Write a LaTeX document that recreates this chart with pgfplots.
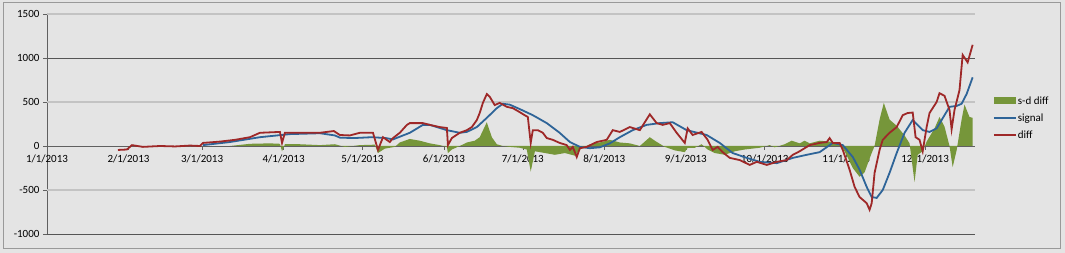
\documentclass[border=0pt]{standalone}
\usepackage{pgfplots}
\pgfplotsset{compat=1.18}
\usepackage{pgfplotstable}
\usepackage{fontspec}
\setmainfont{Carlito}

\definecolor{bg}{RGB}{228,228,228}
\definecolor{diffred}{RGB}{158,40,40}
\definecolor{sigblue}{RGB}{46,100,152}
\definecolor{sdgreen}{RGB}{118,150,58}
\definecolor{gridark}{RGB}{85,85,85}
\definecolor{gridlite}{RGB}{195,195,195}

% day of year (0 = 1/1/2013), value
\pgfplotstableread{
d v
27 -45
30.4 -40
32.3 10
36.5 -10
43 0
48.7 -5
54.4 5
58.2 0
59.3 35
65.8 50
71.5 70
77.2 100
81 150
88.6 160
89.4 35
90.5 150
98.9 150
103.8 150
109.1 170
111.4 125
115.2 120
119 150
124 150
125.9 -45
127.8 100
130.4 45
131.6 90
134.2 150
136.9 240
138 260
143 260
145.6 240
149.4 215
152.1 205
152.5 10
154 90
157 150
159.7 180
161.6 215
163.5 295
164.6 375
165.8 490
167.3 590
168.4 560
170.3 465
172.2 490
174.9 445
177.2 430
179.8 385
181.7 350
182.9 330
184 35
184.8 180
186.7 180
188.6 150
190.1 90
192.4 70
195 35
197.7 10
198.9 -45
200 -10
201.5 -125
202.7 -25
205.3 -10
209.1 45
212.9 70
215.2 180
217.9 160
221.7 215
225.5 180
229.3 360
231.9 260
234.2 240
236.9 260
239.5 150
242.6 35
243.7 200
245.6 125
249 160
251.3 70
253.2 -45
255.1 -10
257 -70
259.7 -135
263.5 -160
267.3 -215
270 -180
273.8 -215
277.6 -180
281.4 -160
283.7 -100
286.3 -60
290.1 10
293.9 35
296.6 45
297.7 90
298.9 35
301.5 35
302.7 -45
305.3 -270
307.2 -465
309.1 -580
311.8 -650
312.9 -725
313.7 -650
314.8 -305
316.7 -45
317.9 70
320.5 150
323.2 215
325.5 350
327.4 375
329.3 380
330.4 100
331.9 70
333.1 -60
334.6 215
335.7 375
338.4 500
339.5 600
341.4 570
343.3 410
344.1 190
345.2 410
347.1 635
348.3 1035
350.2 950
352.1 1150
}\diffdata

\pgfplotstableread{
d v
59.3 10
69.6 45
81 100
92.4 135
103.8 145
109.5 120
111.4 95
116.7 90
123.6 100
128.9 90
131.6 75
138 150
143 240
145.6 240
152.1 180
157 150
159.7 160
163.5 215
167.3 320
171.1 430
173.4 480
176 470
179.8 420
184.8 350
190.1 260
195 150
198.9 45
202.7 -10
206.5 -25
210.3 -15
214.1 30
217.9 100
222.8 180
228.1 240
233.1 260
238 270
243.3 180
250.9 125
255.9 35
260.8 -80
266.2 -135
271.1 -180
277.6 -195
283.7 -135
289 -100
293.9 -70
298.9 35
302.7 10
306.5 -125
309.1 -270
311.8 -465
313.7 -580
315.6 -590
317.9 -500
320.5 -305
323.2 -80
326.2 150
329.3 295
333.1 180
335.7 160
338.4 200
341.4 350
343.3 445
346 455
347.9 480
349.8 590
352.1 780
}\signaldata

\pgfplotstableread{
d v
69.6 0
77.2 25
84.8 30
88.6 25
89.4 -60
90.5 20
96.2 20
103.8 10
109.5 20
113.3 -10
119 10
124.7 15
125.9 -80
128.5 -30
132.3 -10
134.2 40
138 80
141.8 60
145.6 30
149.4 10
152.1 -10
152.5 -80
154 -40
157 0
159.7 40
162.7 60
164.6 100
167.3 270
169.2 100
171.1 20
173.4 0
176 -10
179.8 -20
182.5 -40
184 -290
185.6 -60
189.4 -80
193.2 -100
197 -80
200.8 -110
202.7 -40
206.5 20
210.3 40
214.1 70
217.9 40
221.7 30
225.5 0
229.3 100
231.2 60
235 -10
238.8 -50
242.6 -70
243.7 -20
246.4 -20
249 20
251.3 -40
254 -80
257.8 -100
261.6 -60
265.4 -40
271.1 -20
274.9 10
276.8 -15
280.6 20
283.3 60
286.3 30
288.2 60
290.1 30
293.9 60
297.7 50
301.5 20
303.4 -60
306.5 -250
309.1 -350
311 -300
312.2 -200
313.7 -80
314.8 0
316.7 300
318.3 490
320.5 300
323.2 230
326.2 120
328.1 30
330 -410
331.2 -100
333.1 -60
334.6 50
337.6 200
339.5 330
341.4 220
343.3 0
344.5 -240
346 -50
347.9 300
349 470
350.9 330
352.1 320
}\sddata

\begin{document}
\begin{tikzpicture}[x=1pt,y=1pt]
\path[use as bounding box, fill=bg] (0,0) rectangle (1065,253);
\draw[gray!80, line width=0.8pt] (3,5) rectangle (1060,251);
\begin{axis}[
  at={(47pt,19pt)}, anchor=south west,
  scale only axis, width=928pt, height=220pt,
  xmin=0, xmax=353, ymin=-1000, ymax=1500,
  axis x line=middle, axis y line=left,
  axis line style={-, draw=gray!75!black, line width=0.6pt},
  hide obscured x ticks=false, hide obscured y ticks=false,
  xtick={0,31,59,90,120,151,181,212,243,273,304,334},
  xticklabels={1/1/2013,2/1/2013,3/1/2013,4/1/2013,5/1/2013,6/1/2013,7/1/2013,8/1/2013,9/1/2013,10/1/2013,11/1/2013,12/1/2013},
  ytick={-1000,0,1000},
  extra y ticks={-500,500,1500},
  ymajorgrids,
  major grid style={draw=gridark, line width=0.7pt},
  extra y tick style={major grid style={draw=gridlite, line width=1.6pt}},
  tick align=outside, major tick length=4pt,
  tick style={draw=gray!75!black, line width=0.6pt},
  tick label style={font=\fontsize{11}{13}\selectfont, text=black},
  xticklabel style={yshift=-1pt},
  /pgf/number format/assume math mode=true,
  /pgf/number format/1000 sep={},
  legend style={at={(1.016,0.64)}, anchor=north west, draw=none, fill=none,
    font=\fontsize{11}{13}\selectfont, row sep=6pt,
    nodes={inner sep=1pt}},
  legend cell align=left,
  legend image code/.code={\draw[#1] (0pt,0pt) -- (22pt,0pt);},
]
\addplot[fill=sdgreen, draw=none,
  legend image code/.code={\fill[sdgreen] (0pt,-3.5pt) rectangle (22pt,3.5pt);}]
  table[x=d, y=v] {\sddata} \closedcycle;
\addlegendentry{s-d diff}
\addplot[sigblue, line width=1.8pt] table[x=d, y=v] {\signaldata};
\addlegendentry{signal}
\addplot[diffred, line width=1.8pt] table[x=d, y=v] {\diffdata};
\addlegendentry{diff}
\end{axis}
\end{tikzpicture}
\end{document}
